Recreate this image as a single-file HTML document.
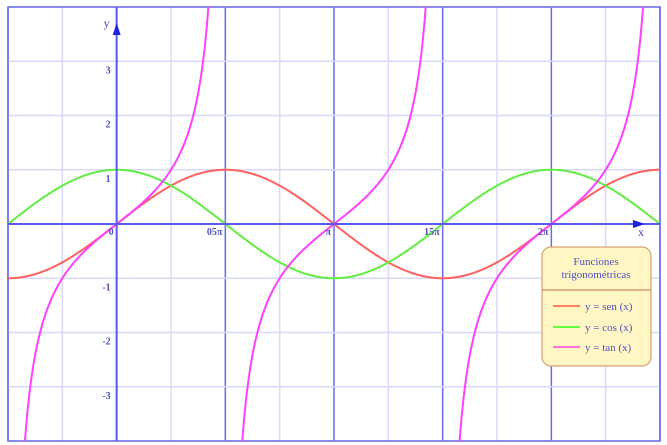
<!DOCTYPE html>
<html><head><meta charset="utf-8">
<style>html,body{margin:0;padding:0;background:#fff;overflow:hidden;width:667px;height:445px}svg{display:block;position:absolute;left:0;top:0;font-family:"Liberation Serif",serif}</style>
</head><body>
<svg id="chart" width="667" height="445" viewBox="0 0 667 445" xmlns="http://www.w3.org/2000/svg">
<defs><clipPath id="plotclip"><rect x="8" y="7" width="652" height="434"/></clipPath></defs>
<g id="grid"></g>
<g id="curves" clip-path="url(#plotclip)"></g>
<g id="axes"></g>
<g>
<rect x="542" y="247" width="109" height="119" rx="9" fill="#fff6c4" stroke="#d8a070" stroke-width="1.2"/>
<text x="596" y="265" font-size="11" fill="#5050c0" text-anchor="middle">Funciones</text>
<text x="596" y="278" font-size="11" fill="#5050c0" text-anchor="middle">trigonométricas</text>
<line x1="542" y1="290" x2="651" y2="290" stroke="#c07050" stroke-width="1"/>
<line x1="553" y1="306" x2="580" y2="306" stroke="#ff8060" stroke-width="2"/>
<text x="585" y="310" font-size="11" fill="#5050c0">y = sen (x)</text>
<line x1="553" y1="327" x2="580" y2="327" stroke="#60ff40" stroke-width="2"/>
<text x="585" y="331" font-size="11" fill="#5050c0">y = cos (x)</text>
<line x1="553" y1="347" x2="580" y2="347" stroke="#ff70e0" stroke-width="2"/>
<text x="585" y="351" font-size="11" fill="#5050c0">y = tan (x)</text>
</g>
</svg>
<script>
const xTickValues = [0, 0.5, 1, 1.5, 2];
const xTickLabels = ["0", "05π", "π", "15π", "2π"];
const yTickValues = [3, 2, 1, -1, -2, -3];
const yTickLabels = ["3", "2", "1", "-1", "-2", "-3"];
const seriesNames = ["sin", "cos", "tan"];
const seriesColors = ["#ff6060", "#60ee40", "#ff40ff"];
const xMin = -0.5, xMax = 2.5, yMin = -4, yMax = 4;
const L = 8, R = 660, T = 7, B = 441;
const NS = "http://www.w3.org/2000/svg";
function sx(v){ return L + (v - xMin) / (xMax - xMin) * (R - L); }
function sy(v){ return T + (yMax - v) / (yMax - yMin) * (B - T); }
function mk(tag, attrs, parent){ const e = document.createElementNS(NS, tag); for (const k in attrs) e.setAttribute(k, attrs[k]); parent.appendChild(e); return e; }
const grid = document.getElementById('grid'), axes = document.getElementById('axes'), curves = document.getElementById('curves');
for (let q = -2; q <= 10; q++) {
  const v = q / 4, major = q % 2 === 0;
  const l = mk('line', {x1: sx(v), x2: sx(v), y1: T, y2: B, stroke: major ? '#6a6af0' : '#d8d8fa', 'stroke-width': 1.5}, grid);
  
  
}
for (let v = -4; v <= 4; v++) {
  const l = mk('line', {x1: L, x2: R, y1: sy(v), y2: sy(v), stroke: '#d8d8fa', 'stroke-width': 1.5}, grid);
  
  
}
const border = mk('rect', {x: L, y: T, width: R - L, height: B - T, fill: 'none', stroke: '#6a6af0', 'stroke-width': 1.5}, grid);


const xa = mk('line', {x1: L, x2: R, y1: sy(0), y2: sy(0), stroke: '#5a5af0', 'stroke-width': 2}, axes);


const ya = mk('line', {x1: sx(0), x2: sx(0), y1: T, y2: B, stroke: '#5a5af0', 'stroke-width': 2}, axes);


const x0 = sx(0), y0 = sy(0);
const ay = mk('path', {d: `M${x0},${23} L${x0-4},${35} L${x0+4},${35}Z`, fill: '#2020e0'}, axes);


const ax = mk('path', {d: `M${645},${y0} L${633},${y0-4} L${633},${y0+4}Z`, fill: '#2020e0'}, axes);


const yl = mk('text', {x: x0 - 13, y: 27, 'font-size': 12, fill: '#4040c0'}, axes); yl.textContent = 'y';


const xl = mk('text', {x: 638, y: 236, 'font-size': 12, fill: '#4040c0'}, axes); xl.textContent = 'x';


xTickValues.forEach((v, i) => {
  const t = mk('text', {x: sx(v) - 3, y: y0 + 11, 'font-size': 10, 'font-weight': 'bold', fill: '#5050c0', 'text-anchor': 'end'}, axes);
  t.textContent = xTickLabels[i];
  
  
});
yTickValues.forEach((v, i) => {
  const t = mk('text', {x: x0 - 6, y: sy(v) + 12, 'font-size': 10, 'font-weight': 'bold', fill: '#5050c0', 'text-anchor': 'end'}, axes);
  t.textContent = yTickLabels[i];
  
  
});
const fns = [Math.sin, Math.cos, Math.tan];
fns.forEach((f, k) => {
  let d = '', prev = null;
  for (let i = 0; i <= 1200; i++) {
    const v = xMin + (xMax - xMin) * i / 1200;
    let y = f(v * Math.PI);
    if (!isFinite(y) || Math.abs(y) > 20) { prev = null; continue; }
    if (k === 2 && prev !== null && Math.abs(y - prev) > 10) { d += ' M'; } else d += (d === '' || prev === null) ? ' M' : ' L';
    d += sx(v).toFixed(2) + ',' + sy(y).toFixed(2);
    prev = y;
  }
  const p = mk('path', {d: d, fill: 'none', stroke: seriesColors[k], 'stroke-width': 2}, curves);
  
  
});
</script>
</body></html>
